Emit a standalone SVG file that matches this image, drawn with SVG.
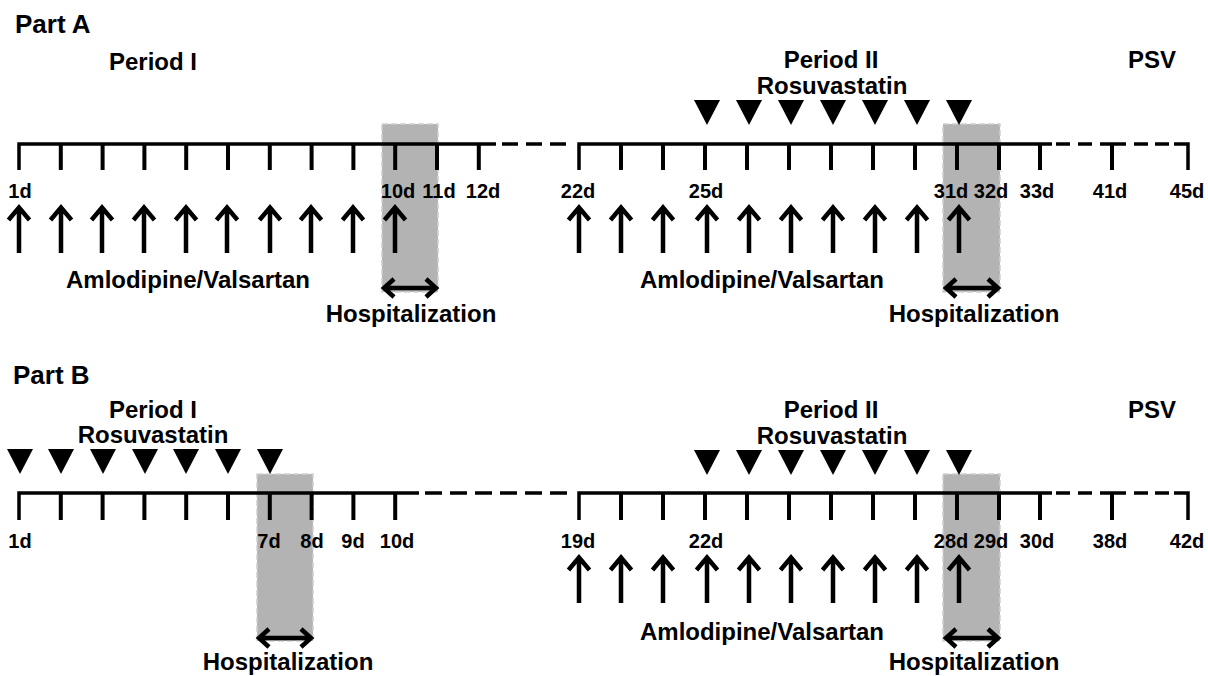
<svg xmlns="http://www.w3.org/2000/svg" width="1208" height="676" viewBox="0 0 1208 676">
<defs>
<style>
.t{font-family:"Liberation Sans",Arial,sans-serif;font-weight:bold;fill:#000}
.h{font-size:26px}
.p{font-size:24px;text-anchor:middle}
.d{font-size:20px;text-anchor:middle}
.ln{fill:none;stroke:#000;stroke-width:3.5}
.tk{fill:none;stroke:#000;stroke-width:4}
.ar{fill:none;stroke:#000;stroke-width:4.5;stroke-linejoin:miter}
.box{fill:#b3b3b3;stroke:#d0d0d0;stroke-width:1.5;stroke-dasharray:6 3}
.tri{fill:#000}
</style>
<polygon id="tri" class="tri" points="-13,0 13,0 0,25"/>
<path id="up" class="ar" d="M0,47 V3 M-10.5,14 L0,1.5 L10.5,14"/>
<path id="dbl" class="ar" d="M2,0 H54 M12,-9 L2,0 L12,9 M44,-9 L54,0 L44,9"/>
</defs>
<rect width="1208" height="676" fill="#fff"/>

<g id="part-a">
  <text class="t h" x="15" y="33">Part A</text>
  <g id="a-period1-label"><text class="t p" x="153" y="70">Period I</text></g>
  <g id="a-period2-label"><text class="t p" x="831" y="68">Period II</text><text class="t p" x="832" y="94">Rosuvastatin</text></g>
  <g id="a-psv"><text class="t p" x="1152" y="68">PSV</text></g>
  <g id="a-hosp1"><rect class="box" x="382" y="124" width="56" height="168"/></g>
  <g id="a-hosp2"><rect class="box" x="943" y="124" width="57" height="168"/></g>
  <g id="a-timeline">
    <path class="ln" d="M19,170 V144 H496"/>
    <path class="ln" d="M579,170 V144 H1052"/>
    <path class="ln" d="M502,144 H518 M526,144 H542 M550,144 H566"/>
    <path class="ln" d="M1056,144 H1070 M1078,144 H1092 M1100,144 H1126 M1134,144 H1148 M1155,144 H1169 M1174,144 H1188 V170"/>
    <path class="tk" d="M60.8,144 V170 M102.6,144 V170 M144.4,144 V170 M186.2,144 V170 M228,144 V170 M269.8,144 V170 M311.6,144 V170 M353.4,144 V170 M395.2,144 V170 M437,144 V170 M478.8,144 V170"/>
    <path class="tk" d="M621,144 V170 M663,144 V170 M705,144 V170 M747,144 V170 M789,144 V170 M831,144 V170 M873,144 V170 M915,144 V170 M957,144 V170 M999,144 V170 M1040,144 V170 M1112,144 V170"/>
  </g>
  <g id="a-days">
    <text class="t d" x="20" y="198">1d</text>
    <text class="t d" x="398" y="198">10d</text>
    <text class="t d" x="439" y="198">11d</text>
    <text class="t d" x="483" y="198">12d</text>
    <text class="t d" x="578" y="198">22d</text>
    <text class="t d" x="706" y="198">25d</text>
    <text class="t d" x="951" y="198">31d</text>
    <text class="t d" x="991" y="198">32d</text>
    <text class="t d" x="1037" y="198">33d</text>
    <text class="t d" x="1110" y="198">41d</text>
    <text class="t d" x="1187" y="198">45d</text>
  </g>
  <g id="a-rosuva">
    <use href="#tri" x="707" y="100"/><use href="#tri" x="749" y="100"/><use href="#tri" x="791" y="100"/><use href="#tri" x="833" y="100"/><use href="#tri" x="875" y="100"/><use href="#tri" x="917" y="100"/><use href="#tri" x="959" y="100"/>
  </g>
  <g id="a-amlo1">
    <text class="t p" x="188" y="288">Amlodipine/Valsartan</text>
  </g>
  <g id="a-amlo2">
    <text class="t p" x="762" y="288">Amlodipine/Valsartan</text>
  </g>
  <text class="t p" x="411" y="322">Hospitalization</text>
  <text class="t p" x="974" y="322">Hospitalization</text>
</g>

<g id="part-b">
  <text class="t h" x="13" y="384">Part B</text>
  <g id="b-period1-label"><text class="t p" x="153" y="418">Period I</text><text class="t p" x="153" y="443">Rosuvastatin</text></g>
  <g id="b-period2-label"><text class="t p" x="831" y="418">Period II</text><text class="t p" x="832" y="444">Rosuvastatin</text></g>
  <g id="b-psv"><text class="t p" x="1152" y="418">PSV</text></g>
  <g id="b-hosp1"><rect class="box" x="257" y="474" width="56" height="167"/></g>
  <g id="b-hosp2"><rect class="box" x="943" y="474" width="57" height="167"/></g>
  <g id="b-timeline">
    <path class="ln" d="M19,520 V493 H419"/>
    <path class="ln" d="M425,493 H572" stroke-dasharray="17 8"/>
    <path class="ln" d="M579,520 V493 H1052"/>
    <path class="ln" d="M1056,493 H1070 M1078,493 H1092 M1100,493 H1126 M1134,493 H1148 M1155,493 H1169 M1174,493 H1188 V520"/>
    <path class="tk" d="M60.8,493 V520 M102.6,493 V520 M144.4,493 V520 M186.2,493 V520 M228,493 V520 M269.8,493 V520 M311.6,493 V520 M353.4,493 V520 M395.2,493 V520"/>
    <path class="tk" d="M621,493 V520 M663,493 V520 M705,493 V520 M747,493 V520 M789,493 V520 M831,493 V520 M873,493 V520 M915,493 V520 M957,493 V520 M999,493 V520 M1040,493 V520 M1112,493 V520"/>
  </g>
  <g id="b-days">
    <text class="t d" x="20" y="548">1d</text>
    <text class="t d" x="269" y="548">7d</text>
    <text class="t d" x="312" y="548">8d</text>
    <text class="t d" x="353" y="548">9d</text>
    <text class="t d" x="397" y="548">10d</text>
    <text class="t d" x="578" y="548">19d</text>
    <text class="t d" x="706" y="548">22d</text>
    <text class="t d" x="951" y="548">28d</text>
    <text class="t d" x="991" y="548">29d</text>
    <text class="t d" x="1037" y="548">30d</text>
    <text class="t d" x="1110" y="548">38d</text>
    <text class="t d" x="1187" y="548">42d</text>
  </g>
  <g id="b-rosuva1">
    <use href="#tri" x="20" y="449"/><use href="#tri" x="61" y="449"/><use href="#tri" x="103" y="449"/><use href="#tri" x="145" y="449"/><use href="#tri" x="186" y="449"/><use href="#tri" x="228" y="449"/><use href="#tri" x="270" y="449"/>
  </g>
  <g id="b-rosuva2">
    <use href="#tri" x="707" y="450"/><use href="#tri" x="749" y="450"/><use href="#tri" x="791" y="450"/><use href="#tri" x="833" y="450"/><use href="#tri" x="875" y="450"/><use href="#tri" x="917" y="450"/><use href="#tri" x="959" y="450"/>
  </g>
  <g id="b-amlo">
    <text class="t p" x="762" y="640">Amlodipine/Valsartan</text>
  </g>
  <text class="t p" x="288" y="670">Hospitalization</text>
  <text class="t p" x="974" y="670">Hospitalization</text>
</g>

<g id="connectors">
  <g id="a-doses1">
    <use href="#up" x="19" y="206"/><use href="#up" x="61" y="206"/><use href="#up" x="102" y="206"/><use href="#up" x="144" y="206"/><use href="#up" x="186" y="206"/><use href="#up" x="227" y="206"/><use href="#up" x="270" y="206"/><use href="#up" x="311" y="206"/><use href="#up" x="353" y="206"/><use href="#up" x="395" y="206"/>
  </g>
  <g id="a-doses2">
    <use href="#up" x="579" y="206"/><use href="#up" x="621" y="206"/><use href="#up" x="663" y="206"/><use href="#up" x="707" y="206"/><use href="#up" x="749" y="206"/><use href="#up" x="791" y="206"/><use href="#up" x="833" y="206"/><use href="#up" x="875" y="206"/><use href="#up" x="917" y="206"/><use href="#up" x="959" y="206"/>
  </g>
  <g id="b-doses">
    <use href="#up" x="579" y="556"/><use href="#up" x="621" y="556"/><use href="#up" x="663" y="556"/><use href="#up" x="707" y="556"/><use href="#up" x="749" y="556"/><use href="#up" x="791" y="556"/><use href="#up" x="833" y="556"/><use href="#up" x="875" y="556"/><use href="#up" x="917" y="556"/><use href="#up" x="959" y="556"/>
  </g>
  <use href="#dbl" x="382" y="288"/>
  <use href="#dbl" x="944" y="288"/>
  <use href="#dbl" x="257" y="638"/>
  <use href="#dbl" x="944" y="638"/>
</g>
</svg>
